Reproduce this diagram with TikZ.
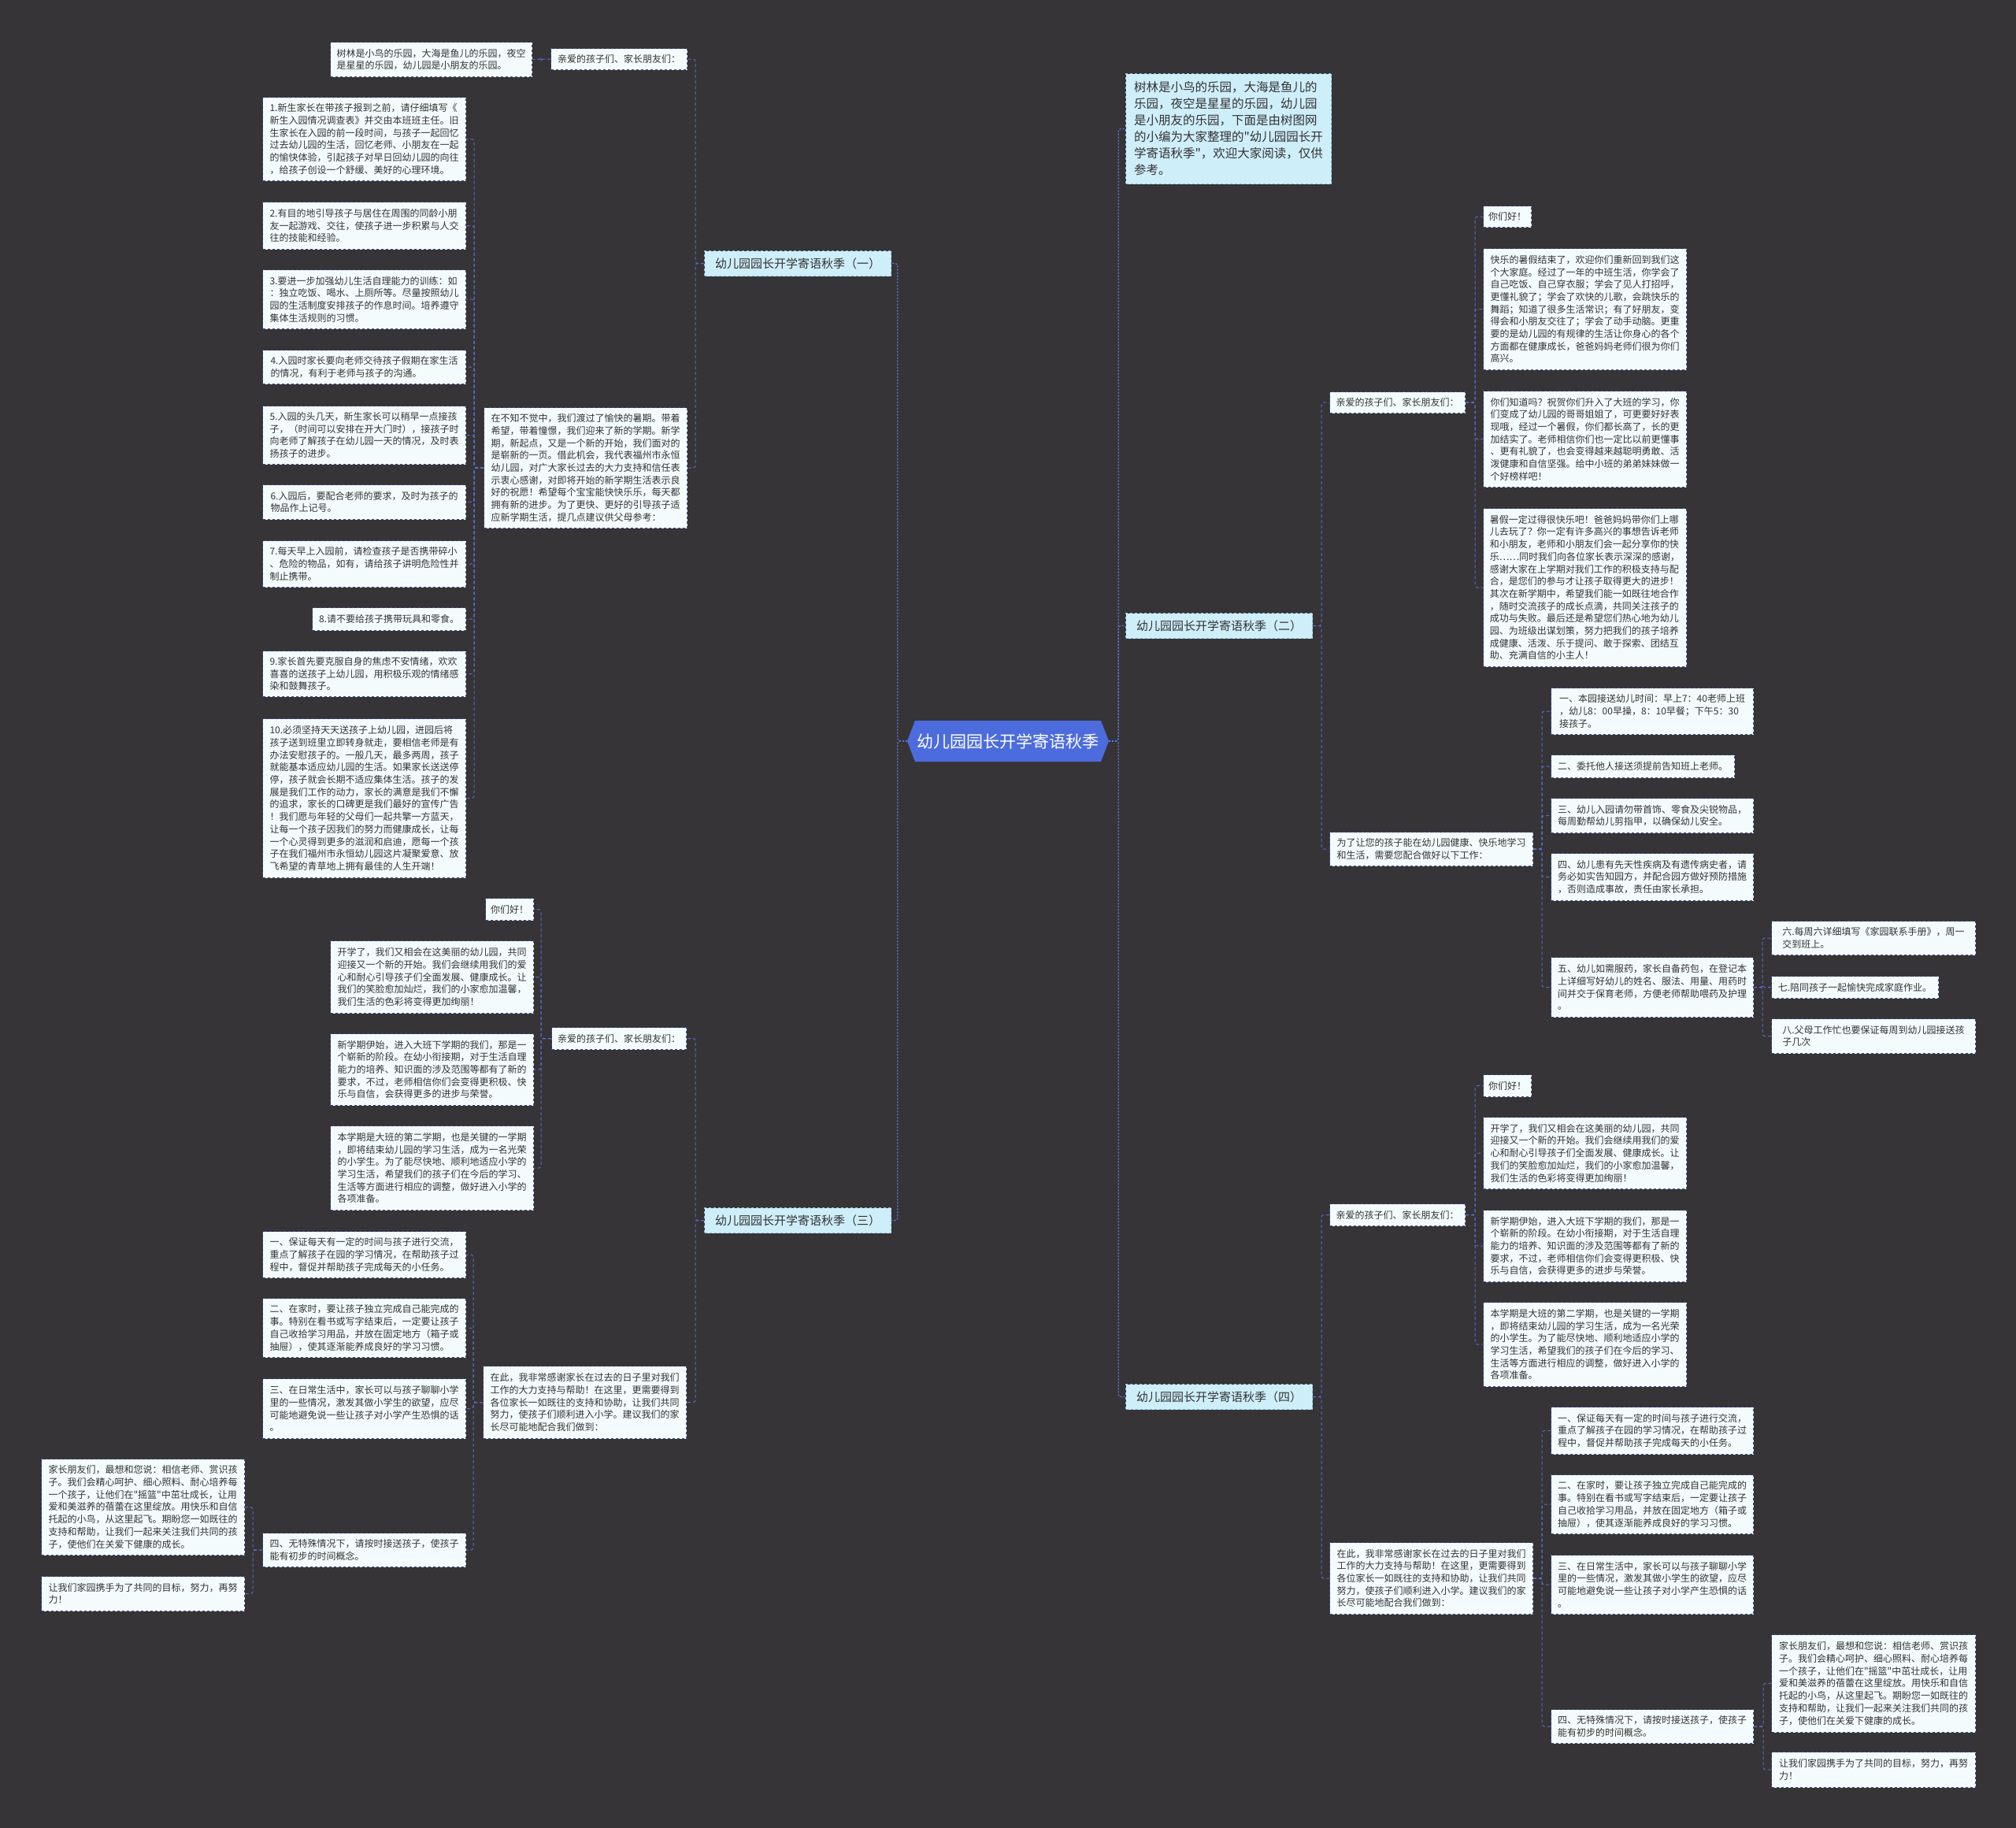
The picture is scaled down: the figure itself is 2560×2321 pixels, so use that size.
\documentclass[tikz,border=0pt]{standalone}
\usepackage{fontspec}
\setmainfont{Noto Sans CJK SC}[Ligatures=TeXOff]
\usepackage{tikz}
\usetikzlibrary{shapes.symbols, positioning}
\definecolor{bgdark}{RGB}{54, 52, 54}
\definecolor{leaffill}{RGB}{244, 251, 253}
\definecolor{leafedge}{RGB}{62, 74, 142}
\definecolor{leaftext}{RGB}{51, 51, 51}
\definecolor{secfill}{RGB}{206, 238, 250}
\definecolor{secedge}{RGB}{140, 190, 225}
\definecolor{rootfill}{RGB}{76, 108, 222}
\definecolor{linkblue}{RGB}{88, 108, 205}
\definecolor{mainblue}{RGB}{96, 124, 232}

\begin{document}
\begin{tikzpicture}[
    x=1pt, y=-1pt,
    root/.style={signal, signal to=west and east, signal pointer angle=138, fill=rootfill, text=white, minimum width=256pt, minimum height=52pt, inner sep=0pt, font=\fontsize{21pt}{24pt}\selectfont},
    sec/.style={rectangle, anchor=north west, draw=secedge, dashed, line width=1pt, fill=secfill, text=leaftext, minimum width=237pt, minimum height=32pt, font=\fontsize{15pt}{18pt}\selectfont},
    intro/.style={rectangle, anchor=north west, draw=secedge, dashed, line width=1pt, fill=secfill, text=leaftext, align=left, minimum width=261pt, minimum height=140pt, font=\fontsize{15.5pt}{21pt}\selectfont},
    leaf/.style={rectangle, anchor=north west, draw=leafedge, dashed, line width=1pt, fill=leaffill, text=leaftext, align=left, minimum width=258pt, inner sep=3pt, font=\fontsize{12pt}{15.7pt}\selectfont},
    mainlink/.style={draw=mainblue, line width=1.2pt, dash pattern=on 2pt off 2pt, rounded corners=3pt},
    link/.style={draw=linkblue, line width=1pt, dash pattern=on 4pt off 3pt, rounded corners=3pt}
]
    \useasboundingbox (0,0) rectangle (2560,2321);
    \fill[bgdark] (0,0) rectangle (2560,2321);

    % Root
    \node[root] (root) at (1280,941) {幼儿园园长开学寄语秋季};

    % Sections
    \node[sec] (sec1) at (894,318) {幼儿园园长开学寄语秋季（一）};
    \node[sec] (sec3) at (894,1533) {幼儿园园长开学寄语秋季（三）};
    \node[sec] (sec2) at (1429,778) {幼儿园园长开学寄语秋季（二）};
    \node[sec] (sec4) at (1429,1757) {幼儿园园长开学寄语秋季（四）};
    \node[intro] (intro) at (1429,93) {树林是小鸟的乐园，大海是鱼儿的\\乐园，夜空是星星的乐园，幼儿园\\是小朋友的乐园，下面是由树图网\\的小编为大家整理的"幼儿园园长开\\学寄语秋季"，欢迎大家阅读，仅供\\参考。};

    % Section one
    \node[leaf, minimum width=173pt, minimum height=27pt] (g1) at (699,61) {亲爱的孩子们、家长朋友们：};
    \node[leaf, minimum width=256pt, minimum height=44pt] (g1a) at (419,53) {树林是小鸟的乐园，大海是鱼儿的乐园，夜空\\是星星的乐园，幼儿园是小朋友的乐园。};
    \node[leaf, minimum height=153pt] (m1) at (614,517) {在不知不觉中，我们渡过了愉快的暑期。带着\\希望，带着憧憬，我们迎来了新的学期。新学\\期，新起点，又是一个新的开始，我们面对的\\是崭新的一页。借此机会，我代表福州市永恒\\幼儿园，对广大家长过去的大力支持和信任表\\示衷心感谢，对即将开始的新学期生活表示良\\好的祝愿！希望每个宝宝能快快乐乐，每天都\\拥有新的进步。为了更快、更好的引导孩子适\\应新学期生活，提几点建议供父母参考：};
    \node[leaf, minimum height=106pt] (b1) at (333,123) {1.新生家长在带孩子报到之前，请仔细填写《\\新生入园情况调查表》并交由本班班主任。旧\\生家长在入园的前一段时间，与孩子一起回忆\\过去幼儿园的生活，回忆老师、小朋友在一起\\的愉快体验，引起孩子对早日回幼儿园的向往\\，给孩子创设一个舒缓、美好的心理环境。};
    \node[leaf, minimum height=60pt] (b2) at (333,256) {2.有目的地引导孩子与居住在周围的同龄小朋\\友一起游戏、交往，使孩子进一步积累与人交\\往的技能和经验。};
    \node[leaf, minimum height=75pt] (b3) at (333,342) {3.要进一步加强幼儿生活自理能力的训练：如\\：独立吃饭、喝水、上厕所等。尽量按照幼儿\\园的生活制度安排孩子的作息时间。培养遵守\\集体生活规则的习惯。};
    \node[leaf, minimum height=43pt] (b4) at (333,444) {4.入园时家长要向老师交待孩子假期在家生活\\的情况，有利于老师与孩子的沟通。};
    \node[leaf, minimum height=74pt] (b5) at (333,515) {5.入园的头几天，新生家长可以稍早一点接孩\\子，（时间可以安排在开大门时），接孩子时\\向老师了解孩子在幼儿园一天的情况，及时表\\扬孩子的进步。};
    \node[leaf, minimum height=44pt] (b6) at (333,615) {6.入园后，要配合老师的要求，及时为孩子的\\物品作上记号。};
    \node[leaf, minimum height=59pt] (b7) at (333,686) {7.每天早上入园前，请检查孩子是否携带碎小\\、危险的物品，如有，请给孩子讲明危险性并\\制止携带。};
    \node[leaf, minimum width=195pt, minimum height=29pt] (b8) at (396,771) {8.请不要给孩子携带玩具和零食。};
    \node[leaf, minimum height=58pt] (b9) at (333,826) {9.家长首先要克服自身的焦虑不安情绪，欢欢\\喜喜的送孩子上幼儿园，用积极乐观的情绪感\\染和鼓舞孩子。};
    \node[leaf, minimum height=202pt] (b10) at (333,912) {10.必须坚持天天送孩子上幼儿园，进园后将\\孩子送到班里立即转身就走，要相信老师是有\\办法安慰孩子的。一般几天，最多两周，孩子\\就能基本适应幼儿园的生活。如果家长送送停\\停，孩子就会长期不适应集体生活。孩子的发\\展是我们工作的动力，家长的满意是我们不懈\\的追求，家长的口碑更是我们最好的宣传广告\\！我们愿与年轻的父母们一起共擎一方蓝天，\\让每一个孩子因我们的努力而健康成长，让每\\一个心灵得到更多的滋润和启迪，愿每一个孩\\子在我们福州市永恒幼儿园这片凝聚爱意、放\\飞希望的青草地上拥有最佳的人生开端！};

    % Section two
    \node[leaf, minimum width=172pt, minimum height=27pt] (g2) at (1688,497) {亲爱的孩子们、家长朋友们：};
    \node[leaf, minimum width=61pt, minimum height=27pt] (g2a) at (1883,261) {你们好！};
    \node[leaf, minimum height=154pt] (g2b) at (1883,315) {快乐的暑假结束了，欢迎你们重新回到我们这\\个大家庭。经过了一年的中班生活，你学会了\\自己吃饭、自己穿衣服；学会了见人打招呼，\\更懂礼貌了；学会了欢快的儿歌，会跳快乐的\\舞蹈；知道了很多生活常识；有了好朋友，变\\得会和小朋友交往了；学会了动手动脑。更重\\要的是幼儿园的有规律的生活让你身心的各个\\方面都在健康成长，爸爸妈妈老师们很为你们\\高兴。};
    \node[leaf, minimum height=122pt] (g2c) at (1883,496) {你们知道吗？祝贺你们升入了大班的学习，你\\们变成了幼儿园的哥哥姐姐了，可更要好好表\\现哦，经过一个暑假，你们都长高了，长的更\\加结实了。老师相信你们也一定比以前更懂事\\、更有礼貌了，也会变得越来越聪明勇敢、活\\泼健康和自信坚强。给中小班的弟弟妹妹做一\\个好榜样吧！};
    \node[leaf, minimum height=201pt] (g2d) at (1883,645) {暑假一定过得很快乐吧！爸爸妈妈带你们上哪\\儿去玩了？你一定有许多高兴的事想告诉老师\\和小朋友，老师和小朋友们会一起分享你的快\\乐……同时我们向各位家长表示深深的感谢，\\感谢大家在上学期对我们工作的积极支持与配\\合，是您们的参与才让孩子取得更大的进步！\\其次在新学期中，希望我们能一如既往地合作\\，随时交流孩子的成长点滴，共同关注孩子的\\成功与失败。最后还是希望您们热心地为幼儿\\园、为班级出谋划策，努力把我们的孩子培养\\成健康、活泼、乐于提问、敢于探索、团结互\\助、充满自信的小主人！};
    \node[leaf, minimum height=43pt] (w2) at (1688,1056) {为了让您的孩子能在幼儿园健康、快乐地学习\\和生活，需要您配合做好以下工作：};
    \node[leaf, minimum width=257pt, minimum height=59pt] (r1) at (1969,873) {一、本园接送幼儿时间：早上7：40老师上班\\，幼儿8：00早操，8：10早餐；下午5：30\\接孩子。};
    \node[leaf, minimum width=233pt, minimum height=29pt] (r2) at (1969,958) {二、委托他人接送须提前告知班上老师。};
    \node[leaf, minimum width=257pt, minimum height=44pt] (r3) at (1969,1013) {三、幼儿入园请勿带首饰、零食及尖锐物品，\\每周勤帮幼儿剪指甲，以确保幼儿安全。};
    \node[leaf, minimum width=257pt, minimum height=60pt] (r4) at (1969,1083) {四、幼儿患有先天性疾病及有遗传病史者，请\\务必如实告知园方，并配合园方做好预防措施\\，否则造成事故，责任由家长承担。};
    \node[leaf, minimum width=257pt, minimum height=76pt] (r5) at (1969,1215) {五、幼儿如需服药，家长自备药包，在登记本\\上详细写好幼儿的姓名、服法、用量、用药时\\间并交于保育老师，方便老师帮助喂药及护理\\。};
    \node[leaf, minimum width=259pt, minimum height=43pt] (r6) at (2249,1169) {六.每周六详细填写《家园联系手册》，周一\\交到班上。};
    \node[leaf, minimum width=212pt, minimum height=28pt] (r7) at (2249,1239) {七.陪同孩子一起愉快完成家庭作业。};
    \node[leaf, minimum width=259pt, minimum height=44pt] (r8) at (2249,1293) {八.父母工作忙也要保证每周到幼儿园接送孩\\子几次};

    % Section three
    \node[leaf, minimum width=171pt, minimum height=28pt] (g3) at (700,1304) {亲爱的孩子们、家长朋友们：};
    \node[leaf, minimum width=61pt, minimum height=28pt] (g3a) at (616,1140) {你们好！};
    \node[leaf, minimum height=92pt] (g3b) at (419,1194) {开学了，我们又相会在这美丽的幼儿园，共同\\迎接又一个新的开始。我们会继续用我们的爱\\心和耐心引导孩子们全面发展、健康成长。让\\我们的笑脸愈加灿烂，我们的小家愈加温馨，\\我们生活的色彩将变得更加绚丽！};
    \node[leaf, minimum height=91pt] (g3c) at (419,1312) {新学期伊始，进入大班下学期的我们，那是一\\个崭新的阶段。在幼小衔接期，对于生活自理\\能力的培养、知识面的涉及范围等都有了新的\\要求，不过，老师相信你们会变得更积极、快\\乐与自信，会获得更多的进步与荣誉。};
    \node[leaf, minimum height=107pt] (g3d) at (419,1429) {本学期是大班的第二学期，也是关键的一学期\\，即将结束幼儿园的学习生活，成为一名光荣\\的小学生。为了能尽快地、顺利地适应小学的\\学习生活，希望我们的孩子们在今后的学习、\\生活等方面进行相应的调整，做好进入小学的\\各项准备。};
    \node[leaf, minimum height=92pt] (t3) at (613,1734) {在此，我非常感谢家长在过去的日子里对我们\\工作的大力支持与帮助！在这里，更需要得到\\各位家长一如既往的支持和协助，让我们共同\\努力，使孩子们顺利进入小学。建议我们的家\\长尽可能地配合我们做到：};
    \node[leaf, minimum height=59pt] (s1) at (333,1563) {一、保证每天有一定的时间与孩子进行交流，\\重点了解孩子在园的学习情况，在帮助孩子过\\程中，督促并帮助孩子完成每天的小任务。};
    \node[leaf, minimum height=75pt] (s2) at (333,1648) {二、在家时，要让孩子独立完成自己能完成的\\事。特别在看书或写字结束后，一定要让孩子\\自己收拾学习用品，并放在固定地方（箱子或\\抽屉），使其逐渐能养成良好的学习习惯。};
    \node[leaf, minimum height=76pt] (s3) at (333,1750) {三、在日常生活中，家长可以与孩子聊聊小学\\里的一些情况，激发其做小学生的欲望，应尽\\可能地避免说一些让孩子对小学产生恐惧的话\\。};
    \node[leaf, minimum height=43pt] (s4) at (333,1946) {四、无特殊情况下，请按时接送孩子，使孩子\\能有初步的时间概念。};
    \node[leaf, minimum height=122pt] (s5) at (52,1852) {家长朋友们，最想和您说：相信老师、赏识孩\\子。我们会精心呵护、细心照料、耐心培养每\\一个孩子，让他们在"摇篮"中茁壮成长，让用\\爱和美滋养的蓓蕾在这里绽放。用快乐和自信\\托起的小鸟，从这里起飞。期盼您一如既往的\\支持和帮助，让我们一起来关注我们共同的孩\\子，使他们在关爱下健康的成长。};
    \node[leaf, minimum height=44pt] (s6) at (52,2001) {让我们家园携手为了共同的目标，努力，再努\\力！};

    % Section four
    \node[leaf, minimum width=172pt, minimum height=28pt] (g4) at (1688,1528) {亲爱的孩子们、家长朋友们：};
    \node[leaf, minimum width=61pt, minimum height=28pt] (g4a) at (1883,1364) {你们好！};
    \node[leaf, minimum height=91pt] (g4b) at (1883,1418) {开学了，我们又相会在这美丽的幼儿园，共同\\迎接又一个新的开始。我们会继续用我们的爱\\心和耐心引导孩子们全面发展、健康成长。让\\我们的笑脸愈加灿烂，我们的小家愈加温馨，\\我们生活的色彩将变得更加绚丽！};
    \node[leaf, minimum height=91pt] (g4c) at (1883,1536) {新学期伊始，进入大班下学期的我们，那是一\\个崭新的阶段。在幼小衔接期，对于生活自理\\能力的培养、知识面的涉及范围等都有了新的\\要求，不过，老师相信你们会变得更积极、快\\乐与自信，会获得更多的进步与荣誉。};
    \node[leaf, minimum height=107pt] (g4d) at (1883,1653) {本学期是大班的第二学期，也是关键的一学期\\，即将结束幼儿园的学习生活，成为一名光荣\\的小学生。为了能尽快地、顺利地适应小学的\\学习生活，希望我们的孩子们在今后的学习、\\生活等方面进行相应的调整，做好进入小学的\\各项准备。};
    \node[leaf, minimum height=91pt] (t4) at (1688,1958) {在此，我非常感谢家长在过去的日子里对我们\\工作的大力支持与帮助！在这里，更需要得到\\各位家长一如既往的支持和协助，让我们共同\\努力，使孩子们顺利进入小学。建议我们的家\\长尽可能地配合我们做到：};
    \node[leaf, minimum width=257pt, minimum height=60pt] (q1) at (1969,1786) {一、保证每天有一定的时间与孩子进行交流，\\重点了解孩子在园的学习情况，在帮助孩子过\\程中，督促并帮助孩子完成每天的小任务。};
    \node[leaf, minimum width=257pt, minimum height=75pt] (q2) at (1969,1872) {二、在家时，要让孩子独立完成自己能完成的\\事。特别在看书或写字结束后，一定要让孩子\\自己收拾学习用品，并放在固定地方（箱子或\\抽屉），使其逐渐能养成良好的学习习惯。};
    \node[leaf, minimum width=257pt, minimum height=75pt] (q3) at (1969,1974) {三、在日常生活中，家长可以与孩子聊聊小学\\里的一些情况，激发其做小学生的欲望，应尽\\可能地避免说一些让孩子对小学产生恐惧的话\\。};
    \node[leaf, minimum width=257pt, minimum height=43pt] (q4) at (1969,2170) {四、无特殊情况下，请按时接送孩子，使孩子\\能有初步的时间概念。};
    \node[leaf, minimum width=259pt, minimum height=124pt] (q5) at (2249,2075) {家长朋友们，最想和您说：相信老师、赏识孩\\子。我们会精心呵护、细心照料、耐心培养每\\一个孩子，让他们在"摇篮"中茁壮成长，让用\\爱和美滋养的蓓蕾在这里绽放。用快乐和自信\\托起的小鸟，从这里起飞。期盼您一如既往的\\支持和帮助，让我们一起来关注我们共同的孩\\子，使他们在关爱下健康的成长。};
    \node[leaf, minimum width=259pt, minimum height=45pt] (q6) at (2249,2224) {让我们家园携手为了共同的目标，努力，再努\\力！};

    % Root to sections
    \foreach \s in {sec1, sec3}
        \draw[mainlink] (root.west) -- ++(-12,0) |- (\s.east);
    \foreach \s in {intro, sec2, sec4}
        \draw[mainlink] (root.east) -- ++(12,0) |- (\s.west);

    % Left side links
    \foreach \c in {g1, m1}
        \draw[link] (sec1.west) -- ++(-11,0) |- (\c.east);
    \draw[link] (g1.west) -- ++(-12,0) |- (g1a.east);
    \foreach \c in {b1, b2, b3, b4, b5, b6, b7, b8, b9, b10}
        \draw[link] (m1.west) -- ++(-12,0) |- (\c.east);
    \foreach \c in {g3, t3}
        \draw[link] (sec3.west) -- ++(-11,0) |- (\c.east);
    \foreach \c in {g3a, g3b, g3c, g3d}
        \draw[link] (g3.west) -- ++(-13,0) |- (\c.east);
    \foreach \c in {s1, s2, s3, s4}
        \draw[link] (t3.west) -- ++(-12,0) |- (\c.east);
    \foreach \c in {s5, s6}
        \draw[link] (s4.west) -- ++(-12,0) |- (\c.east);

    % Right side links
    \foreach \c in {g2, w2}
        \draw[link] (sec2.east) -- ++(11,0) |- (\c.west);
    \foreach \c in {g2a, g2b, g2c, g2d}
        \draw[link] (g2.east) -- ++(12,0) |- (\c.west);
    \foreach \c in {r1, r2, r3, r4, r5}
        \draw[link] (w2.east) -- ++(11,0) |- (\c.west);
    \foreach \c in {r6, r7, r8}
        \draw[link] (r5.east) -- ++(11,0) |- (\c.west);
    \foreach \c in {g4, t4}
        \draw[link] (sec4.east) -- ++(11,0) |- (\c.west);
    \foreach \c in {g4a, g4b, g4c, g4d}
        \draw[link] (g4.east) -- ++(12,0) |- (\c.west);
    \foreach \c in {q1, q2, q3, q4}
        \draw[link] (t4.east) -- ++(11,0) |- (\c.west);
    \foreach \c in {q5, q6}
        \draw[link] (q4.east) -- ++(12,0) |- (\c.west);

\end{tikzpicture}
\end{document}
